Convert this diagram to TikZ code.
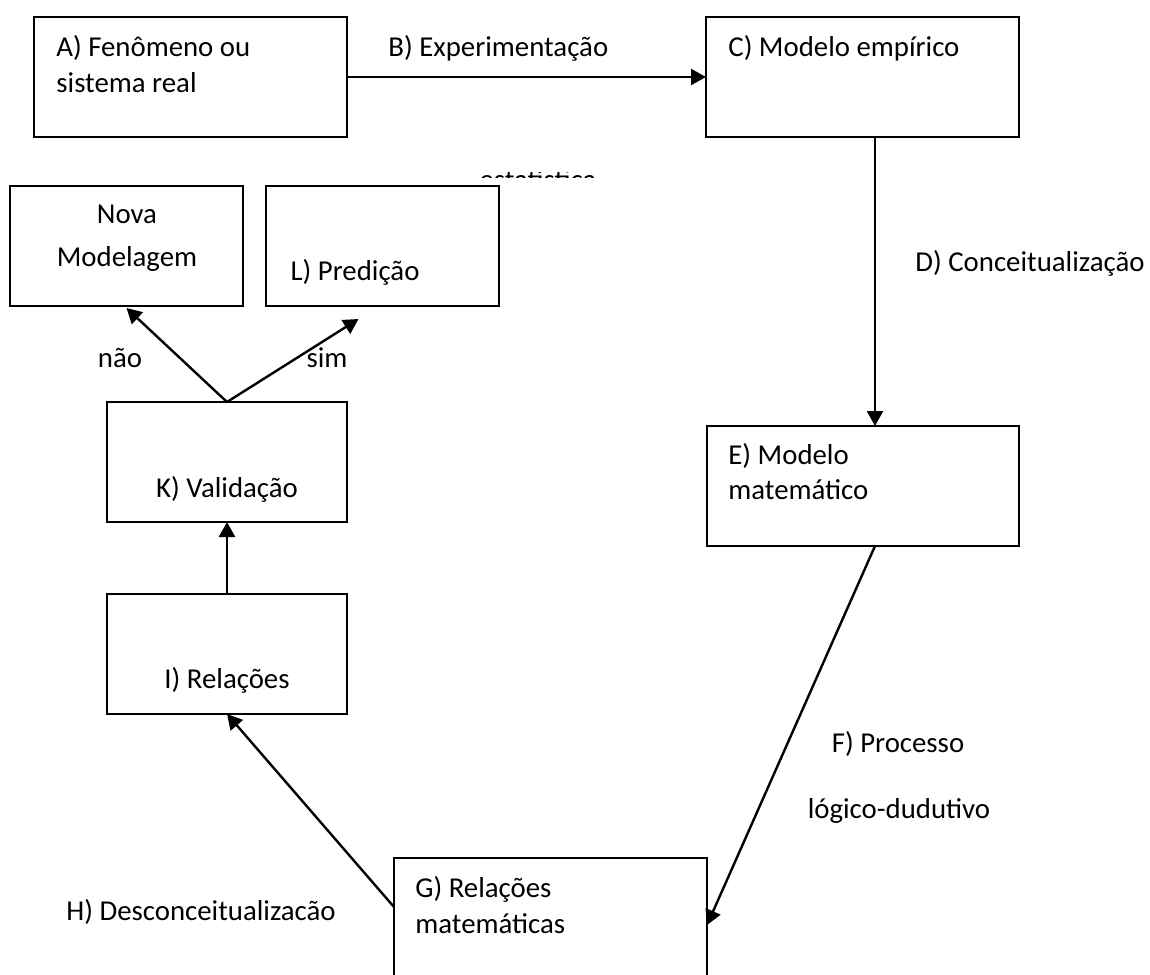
\documentclass[tikz,border=0pt]{standalone}
\usepackage{fontspec}
\setmainfont{Carlito}
\usetikzlibrary{arrows.meta}

\tikzset{
    box/.style={draw, line width=1.3pt, inner sep=0pt, outer sep=0pt, minimum height=60pt},
    lbl/.style={inner sep=0pt, anchor=base west},
    mid/.style={inner sep=0pt, anchor=base},
    arr/.style={line width=1.2pt, -{Triangle[length=7.5pt,width=8pt]}}
}

\begin{document}
\begin{tikzpicture}[x=0.5pt,y=-0.5pt,font=\fontsize{14.4}{17.6}\selectfont]
    \clip (0,0) rectangle (1150,974);

    % boxes
    \node[box, minimum width=156.5pt] (A) at (190.5,77) {};
    \node[box, minimum width=156.5pt] (C) at (862.5,77) {};
    \node[box, minimum width=116.5pt] (N) at (126.5,246) {};
    \node[box, minimum width=116.5pt] (L) at (382.5,246) {};
    \node[box, minimum width=120pt] (K) at (227,462) {};
    \node[box, minimum width=120pt] (I) at (227,654) {};
    \node[box, minimum width=156pt] (E) at (863,486) {};
    \node[box, minimum width=156.5pt, minimum height=67pt] (G) at (550.5,925) {};

    % texts
    \node[lbl] (A1) at (56,57) {A) Fenômeno ou};
    \node[lbl] (A2) at (56,93) {sistema real};
    \node[lbl] (B1) at (388,57) {B) Experimentação};
    \node[lbl] (C1) at (728,57) {C) Modelo empírico};
    \node[lbl] (D1) at (915,271) {D) Conceitualização};
    \node[lbl] (E1) at (728,464) {E) Modelo};
    \node[lbl] (E2) at (728,499) {matemático};
    \node[mid] (F1) at (898,752) {F) Processo};
    \node[mid] (F2) at (899,818) {lógico-dudutivo};
    \node[lbl] (G1) at (415,897) {G) Relações};
    \node[lbl] (G2) at (415,933) {matemáticas};
    \node[lbl] (H1) at (66,920) {H) Desconceitualizacão};
    \node[mid] (I1) at (227,688) {I) Relações};
    \node[mid] (K1) at (227,497) {K) Validação};
    \node[mid] (N1) at (127,223) {Nova};
    \node[mid] (N2) at (127,266) {Modelagem};
    \node[mid] (L1) at (355,280) {L) Predição};
    \node[mid] (no) at (120,367) {não};
    \node[mid] (yes) at (327,367) {sim};

    \begin{scope} % hidden label, only its top shows
        \clip (470,172) rectangle (610,177.5);
        \node[mid] (est) at (538,189) {estatística};
    \end{scope}

    % connectors
    \draw[arr] (A.east) -- (C.west);
    \draw[arr] ([xshift=6.25pt]C.south) -- ([xshift=6pt]E.north);
    \draw[arr] ([xshift=6pt]E.south) -- (G.east);
    \draw[arr] ([yshift=9pt]G.west) -- (I.south);
    \draw[arr] (I.north) -- (K.south);
    \draw[arr] (K.north) -- ([yshift=-1pt]N.south);
    \draw[arr] (K.north) -- ([xshift=-12pt,yshift=-6.5pt]L.south);
\end{tikzpicture}
\end{document}
